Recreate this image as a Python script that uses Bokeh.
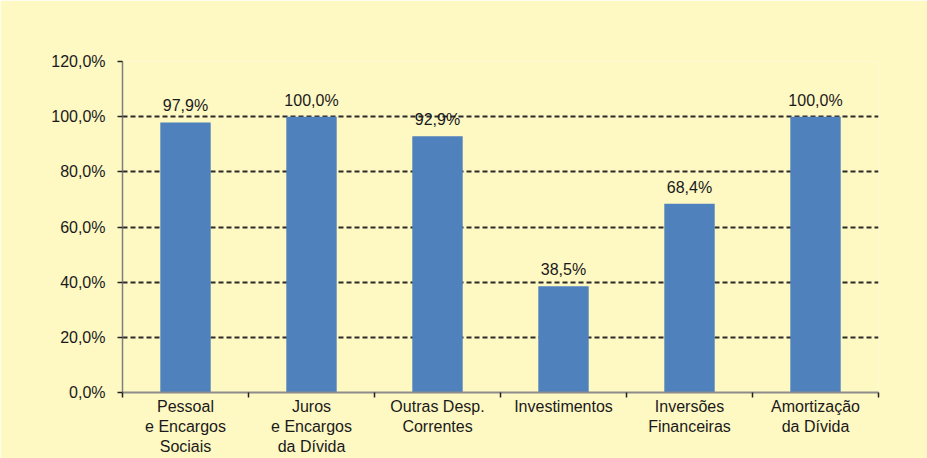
from bokeh.plotting import figure
from bokeh.models import FixedTicker, Range1d, ColumnDataSource, LabelSet
from bokeh.core.properties import value
from bokeh.embed import file_html
from bokeh.resources import INLINE

categories = ["Pessoal\ne Encargos\nSociais", "Juros\ne Encargos\nda Dívida",
              "Outras Desp.\nCorrentes", "Investimentos",
              "Inversões\nFinanceiras", "Amortização\nda Dívida"]
values = [97.9, 100.0, 92.9, 38.5, 68.4, 100.0]
value_labels = ["97,9%", "100,0%", "92,9%", "38,5%", "68,4%", "100,0%"]
y_ticks = [0, 20, 40, 60, 80, 100, 120]
y_tick_labels = ["0,0%", "20,0%", "40,0%", "60,0%", "80,0%", "100,0%", "120,0%"]

BG = "#FEF8C3"
BAR = "#4F81BD"
TXT = "#1A1A1A"
FONT = "Liberation Sans"

n = len(categories)
xs = [i + 0.5 for i in range(n)]
src = ColumnDataSource(dict(x=xs, top=values, lab=value_labels))

p = figure(width=927, height=458, output_backend="svg", toolbar_location=None,
           x_range=Range1d(0, n), y_range=Range1d(0, 120),
           min_border_left=122, min_border_right=49, min_border_top=61, min_border_bottom=65)
p.background_fill_color = BG
p.border_fill_color = BG
p.outline_line_color = None

p.vbar(x="x", top="top", width=0.4, bottom=0, source=src, fill_color=BAR, line_color=None)

labels = LabelSet(x="x", y="top", text="lab", source=src, text_align="center",
                  text_baseline="alphabetic", y_offset=11,
                  text_font=value(FONT), text_font_size=value("16px"), text_color=TXT)
p.add_layout(labels)

# y axis
p.yaxis.ticker = FixedTicker(ticks=y_ticks)
p.yaxis.major_label_overrides = {t: l for t, l in zip(y_ticks, y_tick_labels)}
p.yaxis.major_label_text_font = FONT
p.yaxis.major_label_text_font_size = "16px"
p.yaxis.major_label_text_color = TXT
p.yaxis.major_tick_out = 5
p.yaxis.major_tick_in = 0
p.yaxis.minor_tick_out = 0
p.yaxis.minor_tick_in = 0
p.yaxis.major_tick_line_color = "#222222"
p.yaxis.major_tick_line_width = 1.5
p.yaxis.axis_line_color = "#7F7F7F"
p.yaxis.axis_line_width = 1.5
p.yaxis.major_label_standoff = 12

# x axis: labels at centres, ticks at boundaries
p.xaxis.ticker = FixedTicker(ticks=xs, minor_ticks=list(range(n + 1)))
p.xaxis.major_label_overrides = {x: c for x, c in zip(xs, categories)}
p.xaxis.major_label_text_font = FONT
p.xaxis.major_label_text_font_size = "16px"
p.xaxis.major_label_text_color = TXT
p.xaxis.major_label_text_line_height = 1.2
p.xaxis.major_tick_out = 0
p.xaxis.major_tick_in = 0
p.xaxis.minor_tick_out = 5
p.xaxis.minor_tick_in = 0
p.xaxis.minor_tick_line_color = "#222222"
p.xaxis.minor_tick_line_width = 1.5
p.xaxis.axis_line_color = "#8C8C8C"
p.xaxis.axis_line_width = 2
p.xaxis.major_label_standoff = 0

p.xgrid.grid_line_color = None
p.ygrid.ticker = FixedTicker(ticks=y_ticks[1:])
p.ygrid.grid_line_color = "#2B2B2B"
p.ygrid.grid_line_width = 2
p.ygrid.grid_line_dash = "5 3"

open("out.html", "w").write(file_html(p, INLINE))
